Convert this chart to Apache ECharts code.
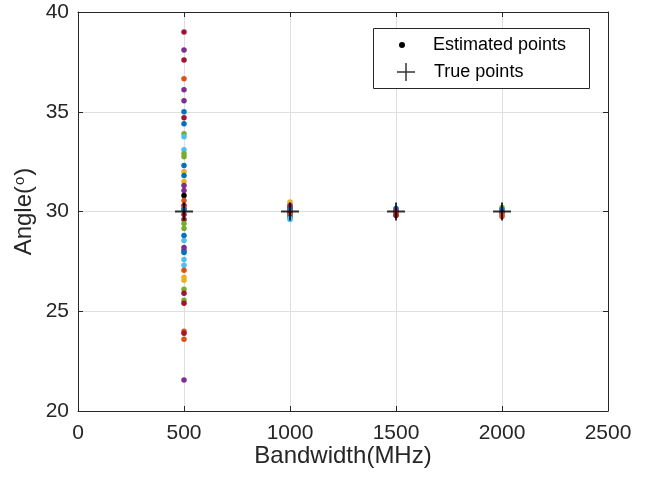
<!DOCTYPE html>
<html>
<head>
<meta charset="utf-8">
<script src="https://cdn.jsdelivr.net/npm/echarts@6/dist/echarts.min.js"></script>
<style>
  html, body { margin: 0; padding: 0; background: #fff; }
  #chart { width: 650px; height: 485px; }
</style>
</head>
<body>
<div id="chart"></div>
<script>
// Bandwidths tested and the true angle at each
const bandwidths = [500, 1000, 1500, 2000];
const trueAngles = [30, 30, 30, 30];

// Axis ranges / ticks
const xTicks = [0, 500, 1000, 1500, 2000, 2500];
const yTicks = [20, 25, 30, 35, 40];

// Trial colours (index 7 = black)
const palette = ['#0072BD', '#D95319', '#EDB120', '#7E2F8E', '#77AC30', '#4DBEEE', '#A2142F', '#000000'];

// Estimated angles per bandwidth: [angle, colour index]
const est500 = [
  [39.0, 6], [38.1, 3], [37.6, 6], [36.65, 1], [36.1, 3], [35.55, 3], [35.0, 0],
  [34.7, 6], [34.4, 0], [33.9, 4], [33.75, 5], [33.1, 5], [32.9, 4], [32.75, 4],
  [32.3, 0], [32.0, 2], [31.8, 0], [31.5, 2], [31.3, 3], [31.05, 3], [30.8, 7],
  [30.55, 1], [30.3, 6], [30.15, 1], [30.1, 0], [29.85, 6], [29.6, 6], [29.4, 4],
  [29.15, 4], [28.8, 0], [28.55, 5], [28.2, 3], [28.05, 3], [27.95, 0], [27.6, 5],
  [27.3, 5], [27.05, 1], [26.7, 2], [26.55, 2], [26.1, 4], [25.9, 6], [25.55, 4],
  [25.4, 6], [24.0, 1], [23.9, 6], [23.6, 1], [21.55, 3]
];
const est1000 = [
  [30.48, 2], [30.38, 2], [30.3, 3], [30.2, 6], [30.12, 3], [30.05, 0], [29.95, 1],
  [29.88, 6], [29.8, 1], [29.72, 0], [29.65, 5], [29.6, 5]
];
const est1500 = [[30.15, 0], [30.05, 3], [29.95, 1], [29.85, 1], [29.8, 6]];
const est2000 = [[30.2, 4], [30.1, 0], [29.95, 3], [29.85, 1], [29.75, 1]];

const estByBandwidth = [est500, est1000, est1500, est2000];

const estData = [];
estByBandwidth.forEach(function (list, i) {
  list.forEach(function (p) {
    estData.push({ value: [bandwidths[i], p[0]], itemStyle: { color: palette[p[1]] } });
  });
});
const trueData = bandwidths.map(function (b, i) { return [b, trueAngles[i]]; });

const FONT = '"Liberation Sans", Arial, Helvetica, sans-serif';
const INK = '#262626';
// plus-shaped marker: thin for the legend, heavier on the plot
const PLUS_THIN = 'path://M0,8.25h18v1.5H0z M8.25,0h1.5v18H8.25z';
const PLUS_BOLD = 'path://M0,8h18v2H0z M8,0h2v18H8z';

const chart = echarts.init(document.getElementById('chart'), null, { renderer: 'canvas' });

const frameAxis = {
  axisLine: { show: true, onZero: false, lineStyle: { color: INK, width: 1 } },
  axisTick: { show: true, inside: true, length: 5, lineStyle: { color: INK } },
  axisLabel: { show: false },
  splitLine: { show: false }
};

const plain = function (v) { return String(v); };

chart.setOption({
  animation: false,
  backgroundColor: '#ffffff',
  textStyle: { fontFamily: FONT },
  grid: { left: 78, right: 42, top: 12, bottom: 74, containLabel: false },
  xAxis: [
    {
      type: 'value', position: 'bottom',
      min: xTicks[0], max: xTicks[xTicks.length - 1], interval: 500,
      name: 'Bandwidth(MHz)', nameLocation: 'middle', nameGap: 33, nameMoveOverlap: false,
      nameTextStyle: { fontSize: 24, color: INK, fontFamily: FONT },
      axisLine: { show: true, onZero: false, lineStyle: { color: INK, width: 1 } },
      axisTick: { show: true, inside: true, length: 5, lineStyle: { color: INK } },
      axisLabel: { fontSize: 21, color: INK, margin: 12, fontFamily: FONT, formatter: plain },
      splitLine: { show: true, lineStyle: { color: '#dfdfdf', width: 1 } }
    },
    Object.assign({ type: 'value', position: 'top', min: xTicks[0], max: xTicks[xTicks.length - 1], interval: 500 }, frameAxis)
  ],
  yAxis: [
    {
      type: 'value', position: 'left',
      min: yTicks[0], max: yTicks[yTicks.length - 1], interval: 5,
      name: 'Angle({s|o})', nameLocation: 'middle', nameGap: 42, nameMoveOverlap: false,
      nameTextStyle: {
        fontSize: 24, color: INK, fontFamily: FONT,
        rich: { s: { fontSize: 15, color: INK, fontFamily: FONT, verticalAlign: 'top', padding: [0, 1, 9, 1] } }
      },
      axisLine: { show: true, onZero: false, lineStyle: { color: INK, width: 1 } },
      axisTick: { show: true, inside: true, length: 5, lineStyle: { color: INK } },
      axisLabel: { fontSize: 21, color: INK, margin: 9, fontFamily: FONT, formatter: plain },
      splitLine: { show: true, lineStyle: { color: '#dfdfdf', width: 1 } }
    },
    Object.assign({ type: 'value', position: 'right', min: yTicks[0], max: yTicks[yTicks.length - 1], interval: 5 }, frameAxis)
  ],
  legend: [
    {
      data: [{ name: 'Estimated points', icon: 'circle' }],
      left: 399, top: 36, padding: 0, orient: 'vertical',
      itemWidth: 6, itemHeight: 6, selectedMode: false,
      textStyle: { fontSize: 18, color: '#000', fontFamily: FONT, padding: [0, 0, 0, 23] }
    },
    {
      data: [{ name: 'True points', icon: PLUS_THIN }],
      left: 397, top: 63, padding: 0, orient: 'vertical',
      itemWidth: 18, itemHeight: 18, selectedMode: false,
      textStyle: { fontSize: 18, color: '#000', fontFamily: FONT, padding: [0, 0, 0, 14] }
    }
  ],
  graphic: [
    {
      type: 'rect', z: 3, silent: true,
      shape: { x: 373.5, y: 28.5, width: 216, height: 60 },
      style: { fill: '#ffffff', stroke: INK, lineWidth: 1 }
    }
  ],
  series: [
    {
      name: 'Estimated points', type: 'scatter',
      xAxisIndex: 0, yAxisIndex: 0,
      symbol: 'circle', symbolSize: 5.5,
      itemStyle: { color: '#000000', opacity: 1 },
      data: estData, z: 2
    },
    {
      name: 'True points', type: 'scatter',
      xAxisIndex: 0, yAxisIndex: 0,
      symbol: PLUS_BOLD, symbolSize: 18,
      itemStyle: { color: '#000000' },
      data: trueData, z: 3
    }
  ]
});
</script>
</body>
</html>
